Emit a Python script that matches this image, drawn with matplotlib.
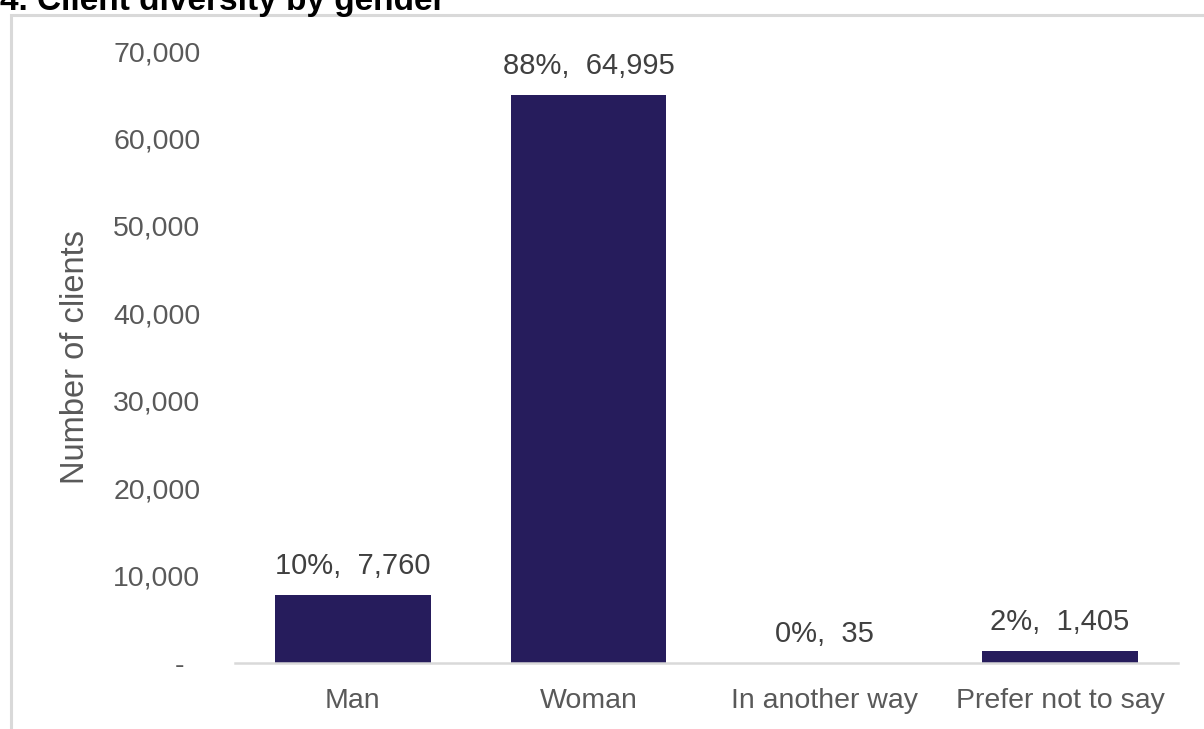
import matplotlib.pyplot as plt
from matplotlib.patches import Rectangle

categories = ['Man', 'Woman', 'In another way', 'Prefer not to say']
clients = [7760, 64995, 35, 1405]
shares = ['10%', '88%', '0%', '2%']
yticks = [0, 10000, 20000, 30000, 40000, 50000, 60000, 70000]
ytick_labels = ['-  ', '10,000', '20,000', '30,000', '40,000', '50,000', '60,000', '70,000']

plt.rcParams['font.family'] = ['Liberation Sans', 'DejaVu Sans']

fig = plt.figure(figsize=(12.04, 7.29), dpi=100)
ax = fig.add_axes([0.1952, 0.0905, 0.7832, 0.8395])

bar_color = '#261c5c'
ax.bar(categories, clients, width=0.66, color=bar_color)
for i, v in enumerate(clients):
    ax.annotate(shares[i] + ',  ' + format(v, ','), (i, v), xytext=(0, 15),
                textcoords='offset points', ha='center', va='baseline',
                fontsize=21, color='#404040')

ax.set_xlim(-0.5, 3.5)
ax.set_ylim(0, 70000)
ax.set_yticks(yticks)
ax.set_yticklabels(ytick_labels)
ax.tick_params(axis='y', length=0, pad=25, labelsize=20.5, labelcolor='#595959')
ax.tick_params(axis='x', length=0, pad=18, labelsize=20.5, labelcolor='#595959')
ax.set_ylabel('Number of clients', fontsize=23.5, color='#595959')
ax.yaxis.set_label_coords(-0.153, 0.5)

for s in ['top', 'right', 'left']:
    ax.spines[s].set_visible(False)
ax.spines['bottom'].set_color('#d9d9d9')
ax.spines['bottom'].set_linewidth(1.8)

# outer frame of the chart area (cut off at right and bottom)
fig.patches.append(Rectangle((10.5 / 1204, -0.1), 1.2, 1.1 - 15 / 729,
                             transform=fig.transFigure, fill=False,
                             edgecolor='#d9d9d9', linewidth=2.2))

fig.text(0.0, 1 - 10 / 729, '4. Client diversity by gender', fontsize=24,
         fontweight='bold', color='black', ha='left', va='baseline')

fig.savefig('out.png', dpi=100)
